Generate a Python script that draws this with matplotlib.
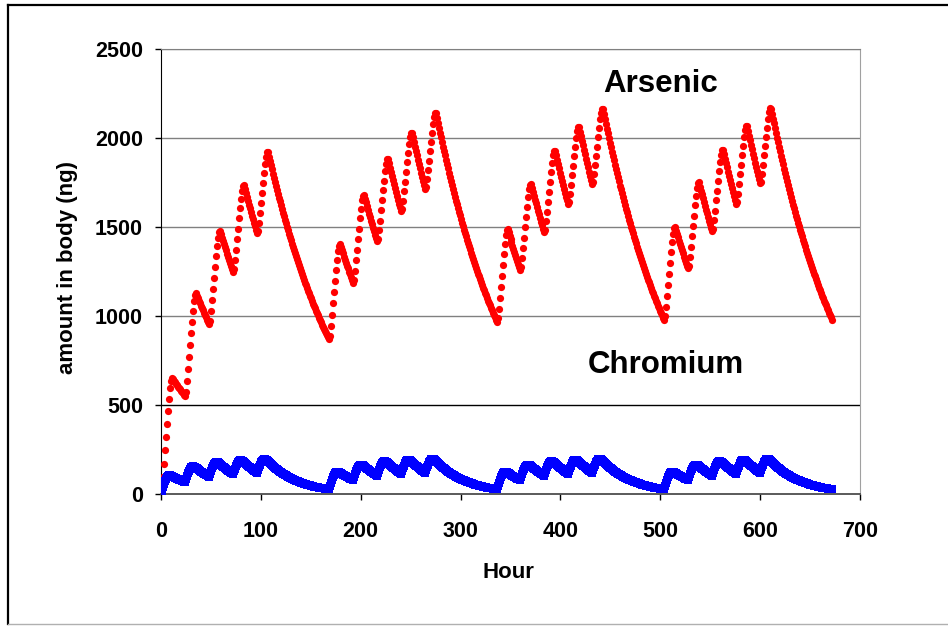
import matplotlib
matplotlib.use("Agg")
import matplotlib.pyplot as plt
from matplotlib.lines import Line2D

# ---------------- data (hourly values) ----------------
arsenic = [
    0,
    32, 98, 171, 246, 320, 393, 465, 534, 593, 633, 652,
    644, 635, 627, 619, 611, 603, 595, 588, 580, 572, 565, 558, 551,
    575, 634, 701, 769, 836, 902, 967, 1030, 1083, 1117, 1129,
    1115, 1100, 1086, 1072, 1058, 1044, 1031, 1018, 1004, 992, 979, 966, 954,
    973, 1027, 1088, 1151, 1213, 1275, 1335, 1393, 1441, 1470, 1478,
    1459, 1440, 1422, 1403, 1385, 1368, 1350, 1332, 1315, 1298, 1281, 1265, 1249,
    1264, 1314, 1372, 1431, 1490, 1548, 1605, 1659, 1703, 1729, 1734,
    1712, 1690, 1668, 1646, 1625, 1604, 1583, 1563, 1543, 1523, 1503, 1484, 1464,
    1478, 1524, 1580, 1636, 1692, 1747, 1802, 1853, 1896, 1919, 1921,
    1896, 1872, 1848, 1824, 1800, 1777, 1754, 1731, 1709, 1687, 1665, 1644, 1623, 1602, 1581,
    1560, 1540, 1520, 1501, 1481, 1462, 1443, 1425, 1406, 1388, 1370, 1353, 1335, 1318, 1301,
    1284, 1267, 1251, 1235, 1219, 1203, 1188, 1172, 1157, 1142, 1127, 1113, 1099, 1084, 1070,
    1057, 1043, 1029, 1016, 1003, 990, 977, 965, 952, 940, 928, 916, 904, 892, 881, 869,
    890, 945, 1007, 1071, 1135, 1197, 1258, 1317, 1366, 1396, 1405,
    1387, 1369, 1352, 1334, 1317, 1300, 1283, 1267, 1250, 1234, 1218, 1202, 1187,
    1204, 1254, 1313, 1373, 1432, 1491, 1548, 1603, 1649, 1675, 1681,
    1659, 1638, 1616, 1596, 1575, 1555, 1535, 1515, 1495, 1476, 1457, 1438, 1419,
    1433, 1481, 1536, 1594, 1650, 1706, 1761, 1813, 1856, 1880, 1882,
    1858, 1834, 1810, 1787, 1764, 1741, 1719, 1696, 1674, 1653, 1631, 1610, 1590,
    1601, 1646, 1700, 1755, 1809, 1863, 1916, 1966, 2007, 2029, 2030,
    2003, 1978, 1952, 1927, 1902, 1877, 1853, 1829, 1806, 1782, 1759, 1736, 1714,
    1724, 1768, 1820, 1873, 1926, 1978, 2030, 2078, 2118, 2138, 2138,
    2110, 2083, 2056, 2029, 2003, 1977, 1952, 1926, 1902, 1877, 1853, 1829, 1805, 1782, 1759,
    1736, 1714, 1692, 1670, 1648, 1627, 1606, 1585, 1565, 1544, 1525, 1505, 1485, 1466, 1447,
    1429, 1410, 1392, 1374, 1356, 1339, 1321, 1304, 1287, 1271, 1254, 1238, 1222, 1206, 1191,
    1175, 1160, 1145, 1131, 1116, 1102, 1087, 1073, 1059, 1046, 1032, 1019, 1006, 993, 980, 967,
    987, 1040, 1102, 1164, 1226, 1287, 1348, 1405, 1453, 1482, 1490,
    1471, 1452, 1433, 1415, 1396, 1378, 1361, 1343, 1326, 1309, 1292, 1275, 1259,
    1274, 1324, 1382, 1441, 1499, 1557, 1614, 1668, 1712, 1738, 1743,
    1720, 1698, 1676, 1654, 1633, 1612, 1591, 1571, 1550, 1530, 1511, 1491, 1472,
    1485, 1532, 1587, 1643, 1699, 1754, 1808, 1860, 1902, 1925, 1928,
    1903, 1878, 1854, 1830, 1806, 1783, 1760, 1737, 1715, 1693, 1671, 1649, 1628,
    1639, 1684, 1737, 1791, 1845, 1899, 1951, 2001, 2041, 2063, 2063,
    2036, 2010, 1984, 1958, 1933, 1908, 1883, 1859, 1835, 1811, 1788, 1765, 1742,
    1752, 1795, 1847, 1900, 1952, 2004, 2055, 2104, 2143, 2163, 2162,
    2134, 2106, 2079, 2052, 2026, 2000, 1974, 1948, 1923, 1898, 1874, 1850, 1826, 1802, 1779,
    1756, 1733, 1711, 1689, 1667, 1645, 1624, 1603, 1582, 1562, 1542, 1522, 1502, 1483, 1464,
    1445, 1426, 1408, 1390, 1372, 1354, 1336, 1319, 1302, 1285, 1269, 1252, 1236, 1220, 1204,
    1189, 1173, 1158, 1143, 1129, 1114, 1100, 1085, 1071, 1058, 1044, 1030, 1017, 1004, 991, 978,
    998, 1051, 1112, 1175, 1237, 1298, 1358, 1415, 1463, 1492, 1500,
    1480, 1461, 1442, 1424, 1405, 1387, 1369, 1352, 1334, 1317, 1300, 1283, 1267,
    1282, 1332, 1390, 1449, 1507, 1564, 1621, 1675, 1720, 1745, 1750,
    1727, 1705, 1683, 1661, 1640, 1618, 1598, 1577, 1557, 1536, 1517, 1497, 1478,
    1491, 1537, 1592, 1649, 1705, 1760, 1814, 1865, 1907, 1931, 1933,
    1908, 1883, 1859, 1835, 1811, 1788, 1765, 1742, 1719, 1697, 1675, 1653, 1632,
    1643, 1688, 1741, 1796, 1849, 1902, 1955, 2005, 2045, 2066, 2067,
    2040, 2013, 1988, 1962, 1937, 1912, 1887, 1862, 1838, 1815, 1791, 1768, 1745,
    1755, 1798, 1850, 1903, 1955, 2007, 2058, 2107, 2145, 2166, 2165,
    2137, 2109, 2082, 2055, 2028, 2002, 1976, 1951, 1926, 1901, 1876, 1852, 1828, 1804, 1781,
    1758, 1735, 1713, 1691, 1669, 1648, 1626, 1605, 1584, 1564, 1544, 1524, 1504, 1485, 1466,
    1447, 1428, 1410, 1391, 1373, 1356, 1338, 1321, 1304, 1287, 1270, 1254, 1238, 1222, 1206,
    1190, 1175, 1160, 1145, 1130, 1115, 1101, 1087, 1073, 1059, 1045, 1032, 1018, 1005, 992, 980,
]

chromium = [
    0,
    18, 37, 56, 72, 86, 95, 101, 104, 104, 103, 101,
    98, 95, 92, 89, 86, 84, 81, 78, 76, 74, 71, 69, 67,
    83, 100, 116, 131, 143, 150, 154, 155, 154, 152, 148,
    144, 139, 135, 130, 126, 122, 119, 115, 111, 108, 104, 101, 98,
    113, 129, 144, 158, 169, 176, 179, 179, 177, 174, 170,
    165, 160, 154, 150, 145, 140, 136, 132, 128, 123, 120, 116, 112,
    127, 142, 157, 171, 181, 188, 190, 191, 188, 185, 180,
    174, 169, 164, 158, 153, 149, 144, 139, 135, 131, 127, 123, 119,
    133, 149, 163, 177, 187, 193, 196, 196, 193, 190, 185,
    179, 173, 168, 163, 157, 152, 148, 143, 139, 134, 130, 126, 122, 118, 114,
    111, 107, 104, 101, 97, 94, 91, 89, 86, 83, 80, 78, 75, 73, 71,
    69, 66, 64, 62, 60, 58, 57, 55, 53, 51, 50, 48, 47, 45, 44,
    42, 41, 40, 39, 37, 36, 35, 34, 33, 32, 31, 30, 29, 28, 27, 26,
    44, 62, 79, 95, 108, 117, 122, 124, 124, 122, 120,
    116, 112, 109, 105, 102, 99, 96, 93, 90, 87, 84, 82, 79,
    95, 111, 127, 142, 153, 160, 164, 165, 163, 161, 157,
    152, 147, 142, 138, 134, 129, 125, 121, 118, 114, 110, 107, 103,
    118, 134, 150, 163, 174, 181, 183, 184, 182, 178, 174,
    168, 163, 158, 153, 148, 144, 139, 135, 130, 126, 122, 118, 115,
    129, 145, 160, 173, 183, 190, 193, 193, 190, 187, 182,
    176, 171, 165, 160, 155, 150, 145, 141, 136, 132, 128, 124, 120,
    135, 150, 165, 178, 188, 194, 197, 197, 194, 190, 186,
    180, 174, 169, 163, 158, 153, 148, 144, 139, 135, 131, 126, 122, 119, 115,
    111, 108, 104, 101, 98, 95, 92, 89, 86, 83, 81, 78, 76, 73, 71,
    69, 67, 65, 63, 61, 59, 57, 55, 53, 52, 50, 48, 47, 45, 44,
    43, 41, 40, 39, 38, 36, 35, 34, 33, 32, 31, 30, 29, 28, 27, 26,
    44, 62, 79, 95, 108, 117, 122, 124, 124, 122, 120,
    116, 112, 109, 105, 102, 99, 96, 93, 90, 87, 84, 82, 79,
    95, 111, 127, 142, 153, 160, 164, 165, 163, 161, 157,
    152, 147, 142, 138, 134, 129, 125, 121, 118, 114, 110, 107, 103,
    118, 134, 150, 163, 174, 181, 183, 184, 182, 178, 174,
    168, 163, 158, 153, 148, 144, 139, 135, 130, 126, 122, 118, 115,
    129, 145, 160, 173, 183, 190, 193, 193, 190, 187, 182,
    176, 171, 165, 160, 155, 150, 145, 141, 136, 132, 128, 124, 120,
    135, 150, 165, 178, 188, 194, 197, 197, 194, 190, 186,
    180, 174, 169, 163, 158, 153, 148, 144, 139, 135, 131, 126, 122, 119, 115,
    111, 108, 104, 101, 98, 95, 92, 89, 86, 83, 81, 78, 76, 73, 71,
    69, 67, 65, 63, 61, 59, 57, 55, 53, 52, 50, 48, 47, 45, 44,
    43, 41, 40, 39, 38, 36, 35, 34, 33, 32, 31, 30, 29, 28, 27, 26,
    44, 62, 79, 95, 108, 117, 122, 124, 124, 122, 120,
    116, 112, 109, 105, 102, 99, 96, 93, 90, 87, 84, 82, 79,
    95, 111, 127, 142, 153, 160, 164, 165, 163, 161, 157,
    152, 147, 142, 138, 134, 129, 125, 121, 118, 114, 110, 107, 103,
    118, 134, 150, 163, 174, 181, 183, 184, 182, 178, 174,
    168, 163, 158, 153, 148, 144, 139, 135, 130, 126, 122, 118, 115,
    129, 145, 160, 173, 183, 190, 193, 193, 190, 187, 182,
    176, 171, 165, 160, 155, 150, 145, 141, 136, 132, 128, 124, 120,
    135, 150, 165, 178, 188, 194, 197, 197, 194, 190, 186,
    180, 174, 169, 163, 158, 153, 148, 144, 139, 135, 131, 126, 122, 119, 115,
    111, 108, 104, 101, 98, 95, 92, 89, 86, 83, 81, 78, 76, 73, 71,
    69, 67, 65, 63, 61, 59, 57, 55, 53, 52, 50, 48, 47, 45, 44,
    43, 41, 40, 39, 38, 36, 35, 34, 33, 32, 31, 30, 29, 28, 27, 26,
]

hours_arsenic = list(range(len(arsenic)))
hours_chromium = list(range(len(chromium)))

x_ticks = [0, 100, 200, 300, 400, 500, 600, 700]
y_ticks = [0, 500, 1000, 1500, 2000, 2500]
x_label = "Hour"
y_label = "amount in body (ng)"
series_labels = ["Arsenic", "Chromium"]

# ---------------- figure ----------------
plt.rcParams["font.family"] = ["Liberation Sans", "DejaVu Sans"]
plt.rcParams["font.weight"] = "bold"

W, H = 948, 628
fig = plt.figure(figsize=(W / 100, H / 100), dpi=100)
fig.patch.set_facecolor("white")

# outer chart border (top and left black, bottom light)
def fx(px):
    return px / W


def fy(py):
    return 1 - py / H


fig.add_artist(Line2D([fx(8), fx(960)], [fy(5), fy(5)], transform=fig.transFigure,
                      color="black", lw=1.6))
fig.add_artist(Line2D([fx(8), fx(8)], [fy(5), fy(624)], transform=fig.transFigure,
                      color="black", lw=1.6))
fig.add_artist(Line2D([fx(8), fx(960)], [fy(624), fy(624)], transform=fig.transFigure,
                      color="#b0b0b0", lw=1.0))

L, R, T, B = 161, 860, 49, 494
ax = fig.add_axes([L / W, 1 - B / H, (R - L) / W, (B - T) / H])

ax.set_xlim(x_ticks[0], x_ticks[-1])
ax.set_ylim(y_ticks[0], y_ticks[-1])

for yv in y_ticks[1:]:
    ax.axhline(yv, color="black" if yv == 500 else "#808080", lw=1.0, zorder=1)

ax.plot(hours_arsenic, arsenic, linestyle="none", marker="o", markersize=5.2,
        markeredgewidth=0, color="#ff0000", zorder=3)
ax.plot(hours_chromium, chromium, linestyle="none", marker="s", markersize=5.3,
        markeredgewidth=0, color="#0000ff", zorder=4)

ax.set_xticks(x_ticks)
ax.set_yticks(y_ticks)
ax.tick_params(axis="both", labelsize=15.5, color="black", width=1)
ax.tick_params(axis="x", direction="out", length=4.5, pad=15)
ax.tick_params(axis="y", direction="out", length=4.5, pad=8.5)
for lab in ax.get_xticklabels() + ax.get_yticklabels():
    lab.set_fontweight("bold")

ax.spines["left"].set_color("black")
ax.spines["bottom"].set_color("#4d4d4d")
ax.spines["bottom"].set_linewidth(1.3)
ax.spines["top"].set_color("#808080")
ax.spines["right"].set_color("#a0a0a0")

ax.set_xlabel(x_label, fontsize=16, fontweight="bold")
ax.set_ylabel(y_label, fontsize=16, fontweight="bold")
ax.xaxis.set_label_coords((508 - L) / (R - L), (B - 572) / (B - T))
ax.xaxis.label.set_verticalalignment("center")
ax.yaxis.set_label_coords((68 - L) / (R - L), (B - 268) / (B - T))
ax.yaxis.label.set_verticalalignment("center")

ax.text(500, 2258, series_labels[0], ha="center", va="baseline",
        fontsize=22.5, fontweight="bold", color="black")
ax.text(506, 680, series_labels[1], ha="center", va="baseline",
        fontsize=22.5, fontweight="bold", color="black")

fig.savefig("out.png", dpi=100)
